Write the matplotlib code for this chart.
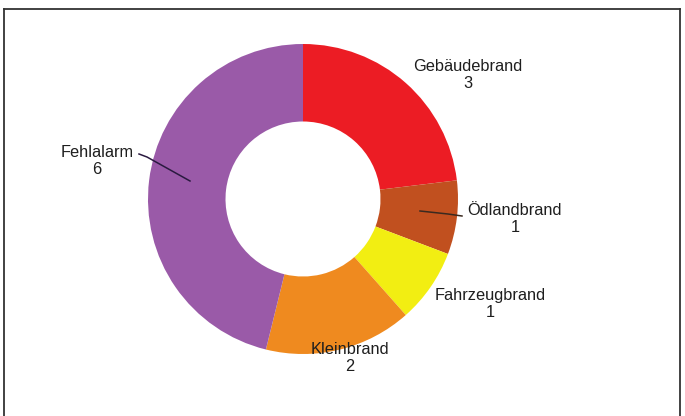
import matplotlib
matplotlib.use("Agg")
import matplotlib.pyplot as plt
from matplotlib.lines import Line2D

# data
categories = ["Gebäudebrand", "Ödlandbrand", "Fahrzeugbrand", "Kleinbrand", "Fehlalarm"]
counts = [3, 1, 1, 2, 6]
colors = ["#ec1c24", "#c1501f", "#f2ee12", "#ef8a1f", "#9a5aa8"]

# label placement in pixel coords (x, y from top)
label_pos = [(468, 75), (515, 219), (490, 304), (350, 358), (97, 161)]

W, H = 685, 416
fig = plt.figure(figsize=(W / 100, H / 100), dpi=100)
ax = fig.add_axes([0, 0, 1, 1])

cx, cy, r = 303, 199, 155
wedges, _ = ax.pie(counts, colors=colors, startangle=90, counterclock=False,
                   center=(cx, H - cy), radius=r,
                   wedgeprops=dict(width=r * 0.5, linewidth=0))
ax.set_xlim(0, W)
ax.set_ylim(0, H)
ax.set_aspect("auto")
ax.axis("off")

for name, n, (lx, ly) in zip(categories, counts, label_pos):
    ax.text(lx, H - ly, f"{name}\n{n}", ha="center", va="center",
            fontsize=11.8, color="#1e1e1e", family="Liberation Sans",
            linespacing=1.1)

# leader lines
ax.plot([139, 147, 190], [H - 154, H - 157, H - 181], color="#2a1a40", lw=1.1)
ax.plot([420, 448, 462], [H - 211, H - 214, H - 216], color="#3a2a20", lw=1.1)

# frame
for xs, ys in [([4, 4], [0, H - 9]), ([4, 680], [H - 9, H - 9]), ([680, 680], [H - 9, 0])]:
    fig.add_artist(Line2D([x / W for x in xs], [y / H for y in ys], color="#333333", lw=1.3))

fig.savefig("out.png", dpi=100)
